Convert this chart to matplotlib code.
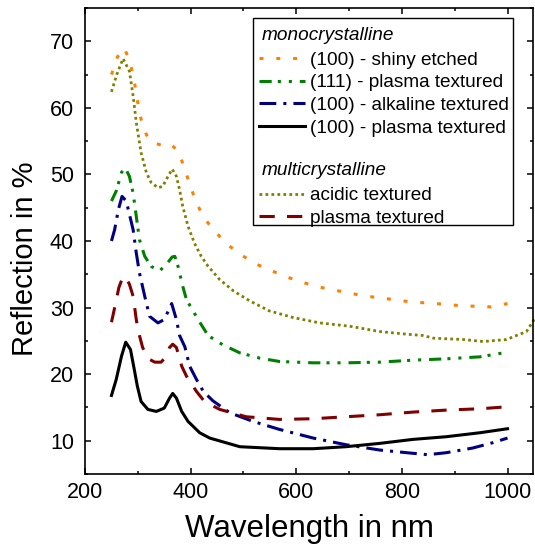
import matplotlib
matplotlib.use('Agg')
import matplotlib.pyplot as plt
from matplotlib.lines import Line2D
from matplotlib.patches import Rectangle
from matplotlib.ticker import MultipleLocator

plt.rcParams['font.family'] = ['Liberation Sans', 'DejaVu Sans']

# monocrystalline
wl_shiny = [250, 261, 274, 284, 291, 296, 301, 306, 316, 325, 344, 362, 378, 388, 409, 424, 444, 469,
            494, 522, 551, 582, 611, 642, 674, 705, 734, 764, 794, 821, 849, 879, 908, 938, 969, 1000]
r_shiny = [65.0, 67.6, 69.0, 67.2, 64.9, 62.7, 60.2, 58.3, 56.0, 54.9, 54.4, 54.6, 53.3, 50.9, 46.1, 43.6,
           41.6, 39.5, 38.0, 36.6, 35.6, 34.6, 33.8, 33.1, 32.6, 32.1, 31.7, 31.4, 31.1, 30.8, 30.7, 30.5,
           30.3, 30.2, 30.1, 30.6]

wl_111 = [250, 259, 269, 276, 284, 291, 297, 303, 313, 325, 341, 354, 365, 370, 376, 385, 392, 414, 433,
          461, 493, 531, 568, 632, 694, 758, 821, 884, 948, 1000]
r_111 = [46.0, 47.5, 50.3, 51.0, 49.7, 47.2, 43.7, 40.2, 37.7, 36.2, 35.5, 36.5, 37.6, 37.7, 36.2, 33.2,
         31.2, 28.2, 25.8, 24.4, 23.2, 22.4, 21.9, 21.7, 21.7, 21.8, 22.1, 22.3, 22.6, 23.3]

wl_alk = [250, 256, 263, 270, 278, 284, 291, 297, 303, 313, 322, 338, 350, 364, 373, 379, 389, 398, 411,
          424, 442, 474, 518, 568, 632, 694, 758, 809, 849, 884, 934, 972, 1000]
r_alk = [40.0, 41.7, 44.7, 46.7, 46.0, 44.0, 41.7, 38.2, 35.2, 31.7, 28.7, 27.7, 28.2, 30.6, 28.2, 25.8,
         24.1, 21.2, 19.2, 17.4, 16.0, 14.2, 12.9, 11.7, 10.4, 9.4, 8.6, 8.2, 7.9, 8.2, 8.9, 9.7, 10.4]

wl_plasma = [250, 259, 269, 277, 286, 292, 299, 306, 319, 335, 350, 360, 366, 373, 383, 395, 417, 436,
             493, 568, 632, 694, 758, 821, 884, 948, 1000]
r_plasma = [16.8, 19.2, 22.7, 24.8, 23.7, 21.2, 18.2, 15.9, 14.7, 14.4, 14.9, 16.4, 17.1, 16.4, 14.4,
            12.9, 11.2, 10.4, 9.1, 8.8, 8.8, 9.1, 9.6, 10.2, 10.6, 11.2, 11.8]

# multicrystalline
wl_acid = [250, 260, 272, 284, 291, 297, 301, 306, 316, 325, 338, 347, 357, 365, 373, 379, 385, 395, 407,
           420, 433, 455, 481, 512, 549, 594, 644, 701, 758, 809, 840, 860, 916, 954, 998, 1036, 1052]
r_acid = [62.4, 65.0, 67.4, 65.5, 61.8, 57.8, 55.8, 53.3, 50.3, 48.8, 48.0, 48.2, 49.7, 50.8, 49.7, 47.7,
          45.2, 42.2, 39.7, 37.7, 36.2, 34.2, 32.5, 31.0, 29.5, 28.5, 27.7, 27.2, 26.4, 26.0, 25.8, 25.4,
          25.2, 24.9, 25.2, 26.4, 28.4]

wl_mplasma = [250, 258, 264, 272, 278, 284, 291, 297, 300, 309, 320, 332, 344, 353, 360, 366, 373, 383,
              392, 411, 426, 455, 505, 568, 632, 694, 758, 821, 884, 948, 1000]
r_mplasma = [27.8, 30.7, 33.0, 34.7, 34.4, 33.5, 31.7, 28.2, 26.7, 24.0, 22.3, 21.8, 21.8, 22.6, 24.0,
             24.5, 24.0, 21.2, 19.7, 17.4, 15.9, 14.7, 13.6, 13.2, 13.3, 13.6, 13.9, 14.3, 14.6, 14.8, 15.1]

fig = plt.figure(figsize=(5.35, 5.54), dpi=100)
ax = fig.add_axes([0.159, 0.1444, 0.837, 0.8412])

lw = 2.2
l1, = ax.plot(wl_shiny, r_shiny, color='#ff8000', lw=lw, ls=(0, (1.3, 4.2)), label='(100) - shiny etched')
l2, = ax.plot(wl_111, r_111, color='#008000', lw=lw, ls=(0, (4, 2, 1, 2.6, 1, 2.6)), label='(111) - plasma textured')
l3, = ax.plot(wl_alk, r_alk, color='#000080', lw=lw, ls=(0, (5.5, 2.3, 1, 2.3)), label='(100) - alkaline textured')
l4, = ax.plot(wl_plasma, r_plasma, color='black', lw=lw, label='(100) - plasma textured')
l5, = ax.plot(wl_acid, r_acid, color='#808000', lw=2.0, ls=(0, (1, 1.15)), label='acidic textured', clip_on=False)
l6, = ax.plot(wl_mplasma, r_mplasma, color='#800000', lw=lw, ls=(0, (5, 4)), label='plasma textured')

ax.set_xlim(200, 1048)
ax.set_ylim(5, 75)
ax.xaxis.set_major_locator(MultipleLocator(200))
ax.xaxis.set_minor_locator(MultipleLocator(100))
ax.yaxis.set_major_locator(MultipleLocator(10))
ax.yaxis.set_minor_locator(MultipleLocator(5))
ax.tick_params(which='both', direction='in', top=True, right=True, width=1.1, labelsize=15.5)
ax.tick_params(which='major', length=4)
ax.tick_params(which='minor', length=2.4)
ax.tick_params(axis='x', pad=6)
ax.tick_params(axis='y', pad=8)
for s in ax.spines.values():
    s.set_linewidth(1.2)

ax.set_xlabel('Wavelength in nm', fontsize=22.5, labelpad=8)
ax.set_ylabel('Reflection in %', fontsize=21)
ax.yaxis.set_label_coords(-0.103, 0.461)

# legend box drawn separately so the rows can sit where the original has them
ax.add_patch(Rectangle((0.375, 0.534), 0.58, 0.4445, transform=ax.transAxes, facecolor='white',
                       edgecolor='black', lw=1.0, zorder=4))

blank = Line2D([], [], color='none')
handles = [blank, l1, l2, l3, l4, blank, blank, l5, l6]
labels = [' ', l1.get_label(), l2.get_label(), l3.get_label(), l4.get_label(), ' ', ' ',
          l5.get_label(), l6.get_label()]
leg = ax.legend(handles, labels, loc='upper right', bbox_to_anchor=(0.962, 0.970), borderaxespad=0,
                fontsize=13.7, handlelength=2.4, handletextpad=0.3, labelspacing=0.28,
                borderpad=0.35, frameon=False)

ax.text(0.395, 0.942, 'monocrystalline', transform=ax.transAxes, fontsize=13.7, style='italic',
        va='center', zorder=10)
ax.text(0.395, 0.652, 'multicrystalline', transform=ax.transAxes, fontsize=13.7, style='italic',
        va='center', zorder=10)

fig.savefig('out.png', dpi=100)
